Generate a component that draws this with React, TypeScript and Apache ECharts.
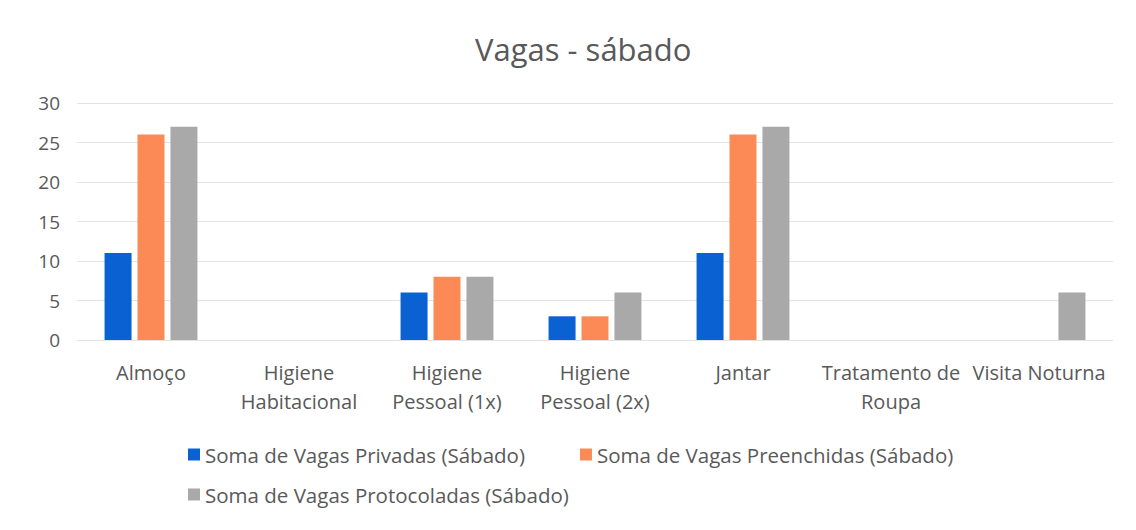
import React, { useEffect, useRef } from "react";
import * as echarts from "echarts";

const categories = [
  "Almoço",
  "Higiene Habitacional",
  "Higiene Pessoal (1x)",
  "Higiene Pessoal (2x)",
  "Jantar",
  "Tratamento de Roupa",
  "Visita Noturna",
];
const categoryLabels = [
  "Almoço",
  "Higiene\nHabitacional",
  "Higiene\nPessoal (1x)",
  "Higiene\nPessoal (2x)",
  "Jantar",
  "Tratamento de\nRoupa",
  "Visita Noturna",
];
const seriesNames = [
  "Soma de Vagas Privadas (Sábado)",
  "Soma de Vagas Preenchidas (Sábado)",
  "Soma de Vagas Protocoladas (Sábado)",
];
const privadas = [11, null, 6, 3, 11, null, null];
const preenchidas = [26, null, 8, 3, 26, null, null];
const protocoladas = [27, null, 8, 6, 27, null, 6];
const colors = ["#0a62d2", "#fb8a56", "#a9a9a9"];
const FONT = "'Open Sans', sans-serif";
const TEXT = "#595959";

export default function App() {
  const ref = useRef<HTMLDivElement>(null);
  useEffect(() => {
    if (!ref.current) return;
    const chart = echarts.init(ref.current, null, { renderer: "svg" });
    const values = [privadas, preenchidas, protocoladas];
    chart.setOption({
      animation: false,
      backgroundColor: "#ffffff",
      textStyle: { fontFamily: FONT },
      title: {
        text: "Vagas - sábado",
        left: 470,
        top: 28,
        textStyle: { fontFamily: FONT, fontSize: 31, fontWeight: "normal", color: TEXT },
      },
      legend: [
        {
          data: [seriesNames[0], seriesNames[1]],
          left: 183,
          top: 439,
          itemWidth: 12,
          itemHeight: 12,
          itemGap: 55,
          icon: "rect",
          textStyle: { fontFamily: FONT, fontSize: 20.5, color: TEXT },
        },
        {
          data: [seriesNames[2]],
          left: 183,
          top: 479,
          itemWidth: 12,
          itemHeight: 12,
          icon: "rect",
          textStyle: { fontFamily: FONT, fontSize: 20.5, color: TEXT },
        },
      ],
      grid: { left: 77, right: 23, top: 103, bottom: 190, containLabel: false },
      xAxis: {
        type: "category",
        data: categories,
        axisLine: { show: false },
        axisTick: { show: false },
        axisLabel: {
          interval: 0,
          margin: 18,
          lineHeight: 29,
          fontFamily: FONT,
          fontSize: 20,
          color: TEXT,
          formatter: (_v: string, i: number) => categoryLabels[i],
        },
      },
      yAxis: {
        type: "value",
        min: 0,
        max: 30,
        interval: 5,
        axisLine: { show: false },
        axisTick: { show: false },
        axisLabel: { margin: 17, fontFamily: FONT, fontSize: 19, color: TEXT },
        splitLine: { lineStyle: { color: "#e3e3e3", width: 1 } },
      },
      series: seriesNames.map((name, k) => ({
        name,
        type: "bar",
        data: values[k],
        barWidth: 27,
        barGap: "22%",
        itemStyle: { color: colors[k] },
      })),
    });
    return () => chart.dispose();
  }, []);
  return (
    <div
      ref={ref}
      style={{ position: "fixed", left: 0, top: 0, width: 1136, height: 530, background: "#fff" }}
    />
  );
}
